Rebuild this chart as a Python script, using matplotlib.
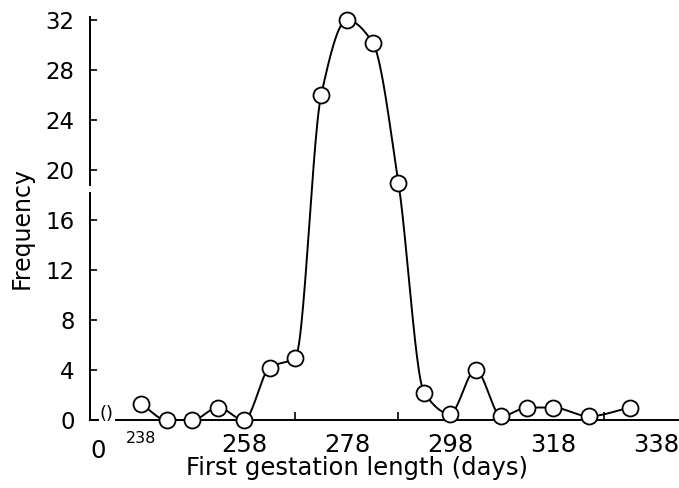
import numpy as np
import matplotlib
matplotlib.use("Agg")
import matplotlib.pyplot as plt

# ---- data ----
gestation_days = [238, 243, 248, 253, 258, 263, 268, 273, 278, 283, 288,
                  293, 298, 303, 308, 313, 318, 325, 333]
frequency = [1.3, 0, 0, 1, 0, 4.2, 5, 26, 32, 30.2, 19,
             2.2, 0.5, 4, 0.3, 1, 1, 0.3, 1]
y_ticks = [0, 4, 8, 12, 16, 20, 24, 28, 32]
x_major_ticks = [258, 278, 298, 318, 338]
x_minor_ticks = [248, 258, 268, 278, 288, 298, 308, 318, 328, 338]

plt.rcParams['font.family'] = ['DejaVu Sans']


def monotone_cubic(x, y, xs):
    x = np.asarray(x, float)
    y = np.asarray(y, float)
    h = np.diff(x)
    d = np.diff(y) / h
    n = len(x)
    m = np.zeros(n)
    m[0] = d[0]
    m[-1] = d[-1]
    for k in range(1, n - 1):
        if d[k - 1] * d[k] <= 0:
            m[k] = 0.0
        else:
            w1 = 2 * h[k] + h[k - 1]
            w2 = h[k] + 2 * h[k - 1]
            m[k] = (w1 + w2) / (w1 / d[k - 1] + w2 / d[k])
    idx = np.clip(np.searchsorted(x, xs) - 1, 0, n - 2)
    t = (xs - x[idx]) / h[idx]
    h00 = 2 * t**3 - 3 * t**2 + 1
    h10 = t**3 - 2 * t**2 + t
    h01 = -2 * t**3 + 3 * t**2
    h11 = t**3 - t**2
    return (h00 * y[idx] + h10 * h[idx] * m[idx] +
            h01 * y[idx + 1] + h11 * h[idx] * m[idx + 1])


fig = plt.figure(figsize=(6.79, 4.88), dpi=100)
ax = fig.add_axes([90 / 679, 1 - 420 / 488, 1 - 90 / 679, (420 - 17) / 488])

xmin, xmax = 228.1, 342.5
ymin, ymax = 0, 32.24
ax.set_xlim(xmin, xmax)
ax.set_ylim(ymin, ymax)

# smooth curve
xs = np.linspace(gestation_days[0], gestation_days[-1], 800)
ys = monotone_cubic(gestation_days, frequency, xs)
ax.plot(xs, ys, color='black', lw=1.4, zorder=3, clip_on=False)
ax.plot(gestation_days, frequency, 'o', ms=11.5, mfc='white', mec='black',
        mew=1.3, zorder=4, clip_on=False)

for s in ax.spines.values():
    s.set_visible(False)

# left axis with a break
ytr = ax.get_yaxis_transform()
ax.plot([0, 0], [0, 18.2], color='black', lw=1.4, transform=ytr, clip_on=False)
ax.plot([0, 0], [18.8, ymax], color='black', lw=1.4, transform=ytr, clip_on=False)

# bottom axis with a break
xtr = ax.get_xaxis_transform()
ax.plot([xmin, 229.6], [0, 0], color='black', lw=1.4, transform=xtr, clip_on=False)
ax.plot([233.2, xmax], [0, 0], color='black', lw=1.4, transform=xtr, clip_on=False)
ax.text(231.4, 0.45, '()', transform=ax.transData, fontsize=13,
        ha='center', va='center')

ax.set_yticks(y_ticks)
ax.set_yticklabels([str(v) for v in y_ticks], fontsize=16.5)
ax.tick_params(axis='y', direction='in', length=5, width=1.2, pad=11)

ax.set_xticks(x_major_ticks)
ax.set_xticklabels([str(v) for v in x_major_ticks], fontsize=17.5)
ax.set_xticks(x_minor_ticks, minor=True)
ax.tick_params(axis='x', which='major', length=0, pad=9)
ax.tick_params(axis='x', which='minor', direction='in', length=6, width=1.2)

# "0" and "238" labels
ax.text(229.6, -1.5, '0', transform=ax.transData, fontsize=17.5,
        ha='center', va='top')
ax.text(gestation_days[0], -0.85, str(gestation_days[0]), transform=ax.transData,
        fontsize=11.5, ha='center', va='top')

fig.text(357 / 679, 1 - 468 / 488, 'First gestation length (days)',
         fontsize=17.5, ha='center', va='center')
fig.text(22 / 679, 1 - 228 / 488, 'Frequency', fontsize=17, rotation=90,
         ha='center', va='center')

fig.savefig('out.png', dpi=100)
